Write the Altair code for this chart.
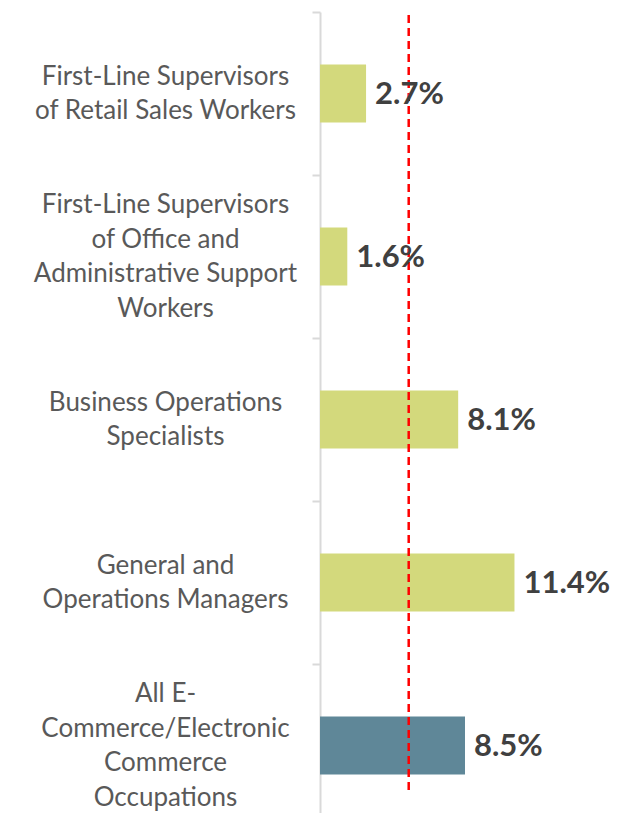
import altair as alt
import pandas as pd

categories = [
    "First-Line Supervisors of Retail Sales Workers",
    "First-Line Supervisors of Office and Administrative Support Workers",
    "Business Operations Specialists",
    "General and Operations Managers",
    "All E-Commerce/Electronic Commerce Occupations",
]
label_lines = [
    "First-Line Supervisors|of Retail Sales Workers",
    "First-Line Supervisors|of Office and|Administrative Support|Workers",
    "Business Operations|Specialists",
    "General and|Operations Managers",
    "All E-|Commerce/Electronic|Commerce|Occupations",
]
values = [2.7, 1.6, 8.1, 11.4, 8.5]
groups = ["occupation", "occupation", "occupation", "occupation", "all"]
benchmark = [5.2]

LINE_H = 34.5

df = pd.DataFrame({
    "category": categories,
    "label": label_lines,
    "value": values,
    "group": groups,
    "text": [f"{v:.1f}%" for v in values],
})

label_offset = {
    "condition": [
        {"test": "length(split(datum.value, '|')) == 4", "value": -1.5 * LINE_H},
        {"test": "length(split(datum.value, '|')) == 3", "value": -1.0 * LINE_H},
        {"test": "length(split(datum.value, '|')) == 2", "value": -0.5 * LINE_H},
    ],
    "value": 0,
}

y_enc = alt.Y(
    "label:N",
    sort=label_lines,
    scale=alt.Scale(range=[0, 815], paddingInner=0, paddingOuter=0),
    axis=alt.Axis(
        title=None,
        labelExpr="split(datum.label, '|')",
        labelAlign="center",
        labelBaseline="middle",
        labelPadding=147,
        labelOffset=label_offset,
        labelFont="Lato",
        labelFontSize=26,
        labelColor="#595959",
        labelLineHeight=LINE_H,
        labelLimit=400,
        tickBand="extent",
        tickSize=8,
        tickColor="#d9d9d9",
        tickWidth=2,
        domainColor="#d9d9d9",
        domainWidth=2,
        grid=False,
    ),
)
x_enc = alt.X("value:Q", scale=alt.Scale(domain=[0, 17], nice=False, zero=True), axis=None)

base = alt.Chart(df)

bars = base.mark_bar(height=alt.RelativeBandSize(0.356)).encode(
    y=y_enc,
    x=x_enc,
    color=alt.Color(
        "group:N",
        scale=alt.Scale(domain=["occupation", "all"], range=["#D3D97C", "#5F8798"]),
        legend=None,
    ),
)

rule = alt.Chart(pd.DataFrame({"b": benchmark})).mark_rule(
    color="#FF0000", strokeWidth=2.5, strokeDash=[8, 5]
).encode(
    x=alt.X("b:Q", scale=alt.Scale(domain=[0, 17], nice=False), axis=None),
    y=alt.value(3),
    y2=alt.value(781),
)

labels = base.mark_text(
    align="left", baseline="middle", dx=9, dy=1,
    font="Lato", fontSize=31, fontWeight="bold", color="#404040",
).encode(
    y=y_enc,
    x=x_enc,
    text="text:N",
)

chart = alt.layer(bars, rule, labels).properties(
    width=290,
    height=801,
    autosize=alt.AutoSizeParams(type="none"),
    padding={"left": 312, "top": 4, "right": 0, "bottom": 0},
    background="white",
).configure_view(stroke=None)

chart.save("out.html", embed_options={"renderer": "svg", "actions": False})
